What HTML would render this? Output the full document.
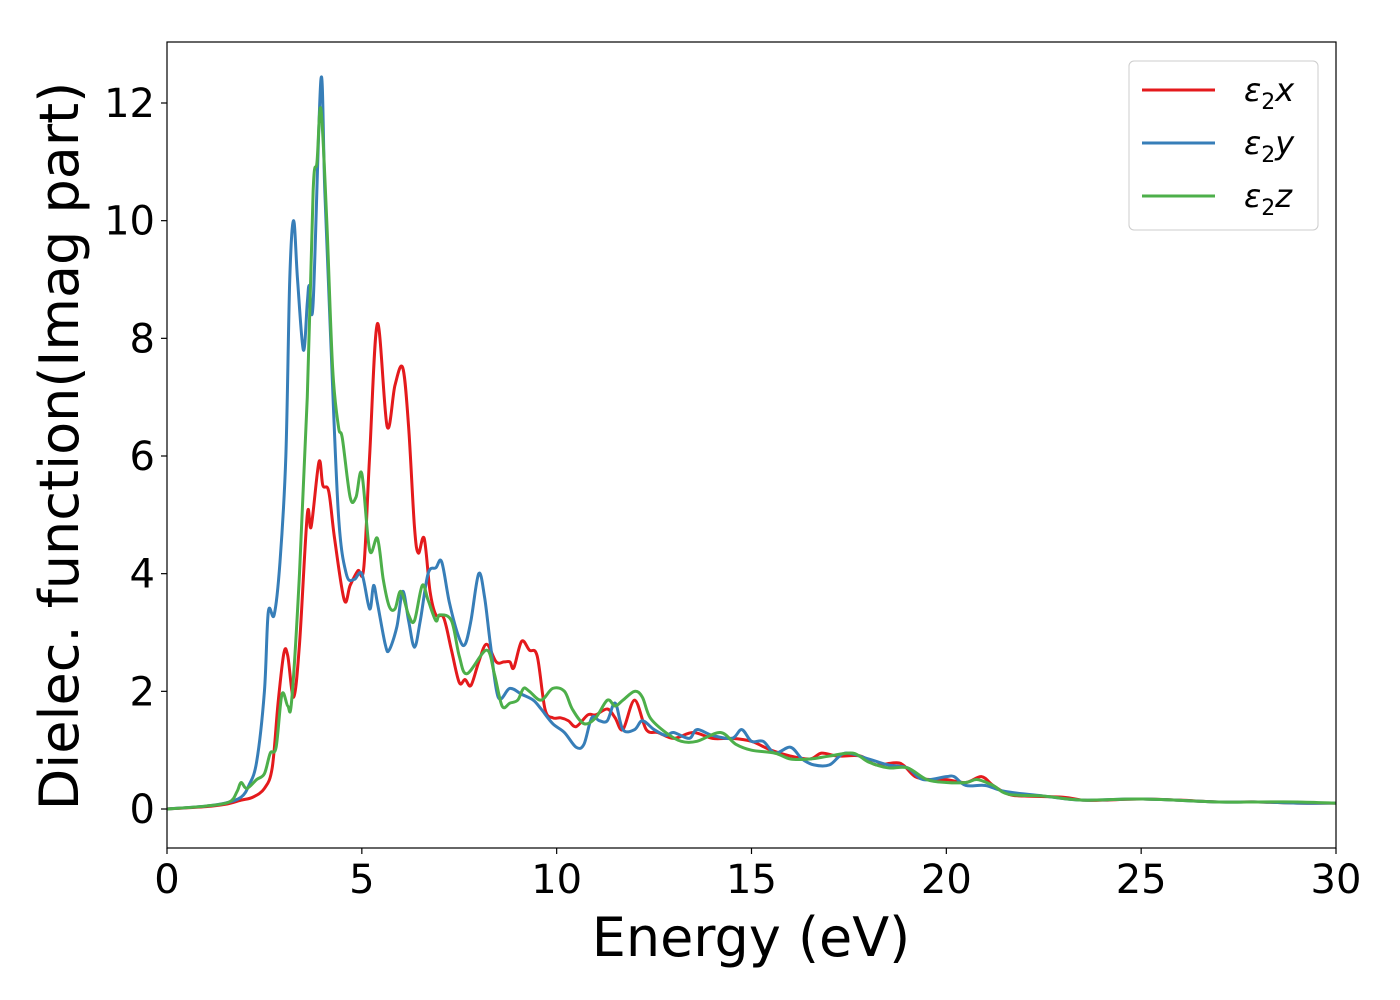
<!DOCTYPE html>
<html><head><meta charset="utf-8"><style>
body{margin:0;background:#fff;}
svg{display:block;font-family:"DejaVu Sans","Liberation Sans",sans-serif;}
</style></head><body>
<svg id="chart" width="1400" height="1000" viewBox="0 0 1400 1000" xmlns="http://www.w3.org/2000/svg">
<rect x="0" y="0" width="1400" height="1000" fill="#fff"/>
<g id="series"></g>
<g id="axes"></g>
<rect x="167" y="42" width="1169" height="806" fill="none" stroke="#000" stroke-width="1.2"/>
<text x="751" y="956" font-size="54" text-anchor="middle">Energy (eV)</text>
<text transform="translate(78,446) rotate(-90)" font-size="54" text-anchor="middle">Dielec. function(Imag part)</text>
<g>
<rect x="1129" y="61" width="189" height="169" rx="5" fill="#fff" stroke="#ccc" stroke-width="1"/>
<line x1="1142" y1="90" x2="1215" y2="90" stroke="#e41a1c" stroke-width="3"/>
<text x="1244" y="101" font-size="32" font-style="italic">ε<tspan font-style="normal" font-size="22" dy="8">2</tspan><tspan dy="-8">x</tspan></text>
<line x1="1142" y1="143" x2="1215" y2="143" stroke="#377eb8" stroke-width="3"/>
<text x="1244" y="154" font-size="32" font-style="italic">ε<tspan font-style="normal" font-size="22" dy="8">2</tspan><tspan dy="-8">y</tspan></text>
<line x1="1142" y1="196" x2="1215" y2="196" stroke="#4daf4a" stroke-width="3"/>
<text x="1244" y="207" font-size="32" font-style="italic">ε<tspan font-style="normal" font-size="22" dy="8">2</tspan><tspan dy="-8">z</tspan></text>
</g>
</svg>
<script>
const xTicks=[0,5,10,15,20,25,30];
const yTicks=[0,2,4,6,8,10,12];
const energyX=[0,1,1.5,1.9,2.2,2.5,2.7,2.85,3.0,3.1,3.25,3.4,3.6,3.7,3.9,4.0,4.15,4.3,4.55,4.7,4.9,5.05,5.2,5.4,5.65,5.85,6.05,6.2,6.35,6.45,6.6,6.75,6.9,7.1,7.3,7.5,7.65,7.8,8.0,8.2,8.45,8.65,8.8,8.9,9.1,9.3,9.5,9.7,9.9,10.1,10.3,10.5,10.8,11.0,11.3,11.5,11.7,12.0,12.3,12.6,13.0,13.5,14,14.5,15,15.5,16,16.5,16.8,17.2,17.8,18.2,18.8,19.2,19.6,20,20.5,20.9,21.2,21.6,22,23,23.5,24,25,26,27,28,29,30];
const valuesX=[0,0.04,0.08,0.15,0.2,0.35,0.7,1.8,2.65,2.6,1.9,2.8,5.0,4.8,5.9,5.5,5.4,4.6,3.55,3.8,4.05,4.1,6.0,8.25,6.5,7.2,7.5,6.5,4.8,4.35,4.6,3.7,3.3,3.25,2.7,2.15,2.2,2.1,2.5,2.8,2.5,2.5,2.5,2.4,2.85,2.7,2.6,1.7,1.55,1.55,1.5,1.4,1.6,1.6,1.7,1.55,1.35,1.85,1.35,1.3,1.2,1.3,1.2,1.2,1.15,1.0,0.9,0.85,0.95,0.9,0.9,0.75,0.78,0.55,0.5,0.5,0.45,0.55,0.4,0.25,0.22,0.2,0.15,0.15,0.17,0.15,0.12,0.12,0.1,0.1];
const energyY=[0,1,1.5,1.9,2.1,2.3,2.5,2.6,2.75,2.9,3.05,3.15,3.25,3.35,3.5,3.6,3.65,3.75,3.95,4.05,4.2,4.4,4.6,4.8,5.0,5.2,5.3,5.4,5.6,5.7,5.9,6.05,6.2,6.35,6.5,6.7,6.9,7.05,7.25,7.5,7.65,7.8,8.0,8.15,8.3,8.5,8.8,9.1,9.4,9.6,9.9,10.2,10.5,10.7,10.9,11.1,11.3,11.5,11.7,12.0,12.2,12.5,12.8,13,13.4,13.6,14,14.5,14.75,15,15.3,15.6,16,16.3,16.6,17,17.4,18,18.5,19,19.4,20,20.2,20.5,21,21.5,22.5,23.5,25,27,28,29,30];
const valuesY=[0,0.05,0.1,0.2,0.4,0.8,2.0,3.35,3.3,4.2,6.0,9.0,10.0,9.0,7.8,8.6,8.9,8.6,12.4,10.5,8,5.0,4.0,3.9,4.0,3.4,3.8,3.5,2.8,2.7,3.1,3.7,3.2,2.75,3.2,4.0,4.1,4.2,3.5,2.9,2.8,3.2,4.0,3.6,2.8,1.9,2.05,1.95,1.85,1.7,1.45,1.3,1.05,1.1,1.55,1.5,1.5,1.8,1.35,1.35,1.5,1.35,1.25,1.3,1.2,1.35,1.25,1.2,1.35,1.15,1.15,0.95,1.05,0.85,0.75,0.75,0.95,0.85,0.75,0.7,0.5,0.55,0.55,0.4,0.4,0.3,0.22,0.15,0.17,0.12,0.12,0.1,0.1];
const energyZ=[0,1,1.6,1.8,1.9,2.05,2.3,2.5,2.65,2.8,2.95,3.1,3.2,3.4,3.6,3.75,3.85,3.95,4.1,4.25,4.4,4.5,4.7,4.85,5.0,5.2,5.4,5.55,5.7,5.85,6.0,6.2,6.35,6.55,6.7,6.9,7.0,7.3,7.5,7.7,8.2,8.4,8.6,8.8,9.0,9.15,9.3,9.6,9.9,10.2,10.4,10.7,11.0,11.3,11.5,11.7,12.0,12.2,12.4,12.8,13.2,13.6,14.2,14.6,15,15.6,16,16.5,17,17.6,18,18.5,19,19.5,20,20.5,20.8,21.2,21.6,22.5,23.5,25,27,28,29,30];
const valuesZ=[0,0.05,0.12,0.3,0.45,0.35,0.5,0.6,0.95,1.05,1.95,1.75,1.85,4.0,7.0,10.5,11.0,11.9,10.0,7.5,6.5,6.3,5.3,5.3,5.7,4.4,4.6,3.9,3.45,3.4,3.7,3.3,3.2,3.8,3.55,3.2,3.3,3.2,2.6,2.3,2.7,2.3,1.75,1.8,1.85,2.05,2.0,1.85,2.05,2.0,1.7,1.45,1.55,1.85,1.75,1.85,2.0,1.9,1.55,1.3,1.15,1.15,1.3,1.1,1.0,0.95,0.85,0.85,0.9,0.95,0.8,0.7,0.7,0.5,0.45,0.45,0.5,0.4,0.25,0.22,0.15,0.17,0.12,0.12,0.12,0.1];

const X0=167,X1=1336,XMIN=0,XMAX=30;
const Y0=809,PXY=(809-103)/12;
function sx(v){return X0+(v-XMIN)/(XMAX-XMIN)*(X1-X0);}
function sy(v){return Y0-v*PXY;}
const NS="http://www.w3.org/2000/svg";
const axes=document.getElementById('axes');
xTicks.forEach(t=>{
  const l=document.createElementNS(NS,'line');
  l.setAttribute('x1',sx(t));l.setAttribute('x2',sx(t));l.setAttribute('y1',848);l.setAttribute('y2',854);
  l.setAttribute('stroke','#000');l.setAttribute('stroke-width','1.2');
  
  
  axes.appendChild(l);
  const tx=document.createElementNS(NS,'text');
  tx.setAttribute('x',sx(t));tx.setAttribute('y',893);tx.setAttribute('font-size','40');tx.setAttribute('text-anchor','middle');
  tx.textContent=t;
  
  
  axes.appendChild(tx);
});
yTicks.forEach(t=>{
  const l=document.createElementNS(NS,'line');
  l.setAttribute('x1',161);l.setAttribute('x2',167);l.setAttribute('y1',sy(t));l.setAttribute('y2',sy(t));
  l.setAttribute('stroke','#000');l.setAttribute('stroke-width','1.2');
  
  
  axes.appendChild(l);
  const tx=document.createElementNS(NS,'text');
  tx.setAttribute('x',155);tx.setAttribute('y',sy(t)+14);tx.setAttribute('font-size','40');tx.setAttribute('text-anchor','end');
  tx.textContent=t;
  
  
  axes.appendChild(tx);
});
function smoothPath(xs,ys){
  const p=xs.map((x,i)=>[sx(x),sy(ys[i])]);
  let d='M'+p[0][0].toFixed(2)+','+p[0][1].toFixed(2);
  for(let i=0;i<p.length-1;i++){
    const a=p[i-1]||p[i],b=p[i],c=p[i+1],e=p[i+2]||c;
    const c1=[b[0]+(c[0]-a[0])/6,b[1]+(c[1]-a[1])/6];
    const c2=[c[0]-(e[0]-b[0])/6,c[1]-(e[1]-b[1])/6];
    if(c1[0]<b[0])c1[0]=b[0]; if(c2[0]>c[0])c2[0]=c[0];
    d+=' C'+c1[0].toFixed(2)+','+c1[1].toFixed(2)+' '+c2[0].toFixed(2)+','+c2[1].toFixed(2)+' '+c[0].toFixed(2)+','+c[1].toFixed(2);
  }
  return d;
}
const g=document.getElementById('series');
[[energyX,valuesX,'#e41a1c','series-eps2-x'],[energyY,valuesY,'#377eb8','series-eps2-y'],[energyZ,valuesZ,'#4daf4a','series-eps2-z']].forEach(s=>{
  const p=document.createElementNS(NS,'path');
  p.setAttribute('d',smoothPath(s[0],s[1]));
  p.setAttribute('fill','none');p.setAttribute('stroke',s[2]);p.setAttribute('stroke-width','3');p.setAttribute('stroke-linejoin','round');
  
  
  g.appendChild(p);
});
</script>
</body></html>
